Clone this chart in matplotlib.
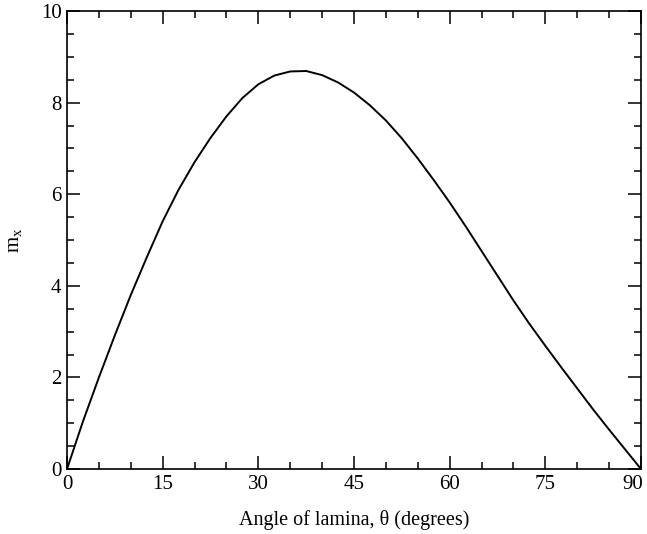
import numpy as np
import matplotlib
matplotlib.use("Agg")
import matplotlib.pyplot as plt
import matplotlib.transforms as mtransforms
from matplotlib.ticker import MultipleLocator

plt.rcParams['font.family'] = ['Liberation Serif', 'DejaVu Serif']
plt.rcParams['mathtext.fontset'] = 'custom'
plt.rcParams['mathtext.rm'] = 'Liberation Serif'

# angle of lamina (degrees) and m_x
theta = [0, 2.5, 5, 7.5, 10, 12.5, 15, 17.5, 20, 22.5, 25, 27.5, 30, 32.5,
         35, 37.5, 40, 42.5, 45, 47.5, 50, 52.5, 55, 57.5, 60, 62.5, 65,
         67.5, 70, 72.5, 75, 77.5, 80, 82.5, 85, 87.5, 90]
m_x = [0.0, 1.04, 2.00, 2.92, 3.80, 4.62, 5.41, 6.10, 6.70, 7.23, 7.70, 8.10,
       8.40, 8.59, 8.68, 8.69, 8.60, 8.44, 8.22, 7.94, 7.61, 7.22, 6.78, 6.31,
       5.82, 5.30, 4.76, 4.22, 3.68, 3.17, 2.69, 2.22, 1.76, 1.30, 0.86, 0.43,
       0.0]

fig = plt.figure(figsize=(6.47, 5.34), dpi=100)
ax = fig.add_axes([0.1036, 0.1217, 0.8871, 0.8577])

ax.plot(theta, m_x, color='black', linewidth=1.4, solid_joinstyle='round')

ax.set_xlim(0, 90)
ax.set_ylim(0, 10)
ax.set_xticks(np.arange(0, 91, 15))
ax.xaxis.set_minor_locator(MultipleLocator(5))
ax.set_yticks(np.arange(0, 11, 2))
ax.yaxis.set_minor_locator(MultipleLocator(0.5))
ax.tick_params(which='both', direction='in', top=True, right=True,
               labelsize=15, width=1.1, pad=4)
ax.tick_params(which='major', length=9.5)
ax.tick_params(which='minor', length=5)
for s in ax.spines.values():
    s.set_linewidth(1.2)

ax.set_xlabel('Angle of lamina, θ (degrees)', fontsize=14.5, labelpad=12)
ax.set_ylabel(r'$\mathrm{m_x}$', fontsize=15, labelpad=12)

# keep the "90" label inside the figure, as in the reference
fig.canvas.draw()
for lab in ax.get_xticklabels():
    if lab.get_text() == '90':
        lab.set_transform(lab.get_transform() +
                          mtransforms.ScaledTranslation(-8 / 100, 0, fig.dpi_scale_trans))

fig.savefig('out.png', dpi=100)
